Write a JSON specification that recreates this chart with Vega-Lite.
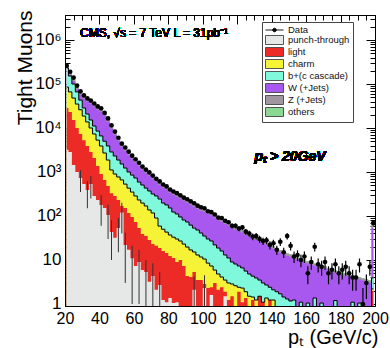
{
  "$schema": "https://vega.github.io/schema/vega-lite/v6.json",
  "width": 310,
  "height": 291,
  "autosize": "none",
  "padding": {"left": 65, "top": 15, "right": 15, "bottom": 42},
  "background": "white",
  "config": {
    "font": "Liberation Sans",
    "view": {"stroke": "black", "strokeWidth": 1},
    "axis": {"grid": false, "labelFont": "Liberation Sans", "titleFont": "Liberation Sans", "domainColor": "black", "tickColor": "black", "labelColor": "black", "titleColor": "black", "titleFontWeight": "normal", "zindex": 1}
  },
  "data": {"values": [
    {"x":21,"pt":3200,"li":28500,"ch":85000,"bc":231000,"w":240000,"z":250000,"ot":257000,"d":260000},
    {"x":23,"pt":2850,"li":23100,"ch":66000,"bc":152000,"w":162000,"z":180000,"ot":187000,"d":190000},
    {"x":25,"pt":1450,"li":15200,"ch":48000,"bc":100000,"w":115000,"z":132000,"ot":137000,"d":140000},
    {"x":27,"pt":1000,"li":10000,"ch":35000,"bc":66000,"w":76000,"z":86000,"ot":89000,"d":92000},
    {"x":29,"pt":730,"li":7300,"ch":26000,"bc":43000,"w":57000,"z":64000,"ot":66000,"d":68000,"el":350,"eh":1100},
    {"x":31,"pt":530,"li":5300,"ch":18700,"bc":28500,"w":46000,"z":51000,"ot":53000,"d":55000},
    {"x":33,"pt":390,"li":3900,"ch":13700,"bc":20800,"w":40000,"z":44500,"ot":46000,"d":47000,"el":150,"eh":620},
    {"x":35,"pt":530,"li":2850,"ch":10000,"bc":15200,"w":35500,"z":39700,"ot":41000,"d":42000,"el":250,"eh":800},
    {"x":37,"pt":285,"li":2080,"ch":7300,"bc":11100,"w":30500,"z":34000,"ot":35000,"d":36000},
    {"x":39,"pt":231,"li":1370,"ch":5300,"bc":8500,"w":26000,"z":29000,"ot":30000,"d":31000},
    {"x":41,"pt":178,"li":900,"ch":3900,"bc":6600,"w":23500,"z":26000,"ot":27000,"d":28000,"el":60,"eh":300},
    {"x":43,"pt":152,"li":660,"ch":2700,"bc":5000,"w":19000,"z":21300,"ot":22000,"d":22000},
    {"x":45,"pt":105,"li":480,"ch":1870,"bc":3900,"w":13900,"z":15500,"ot":16000,"d":16500,"el":30,"eh":180},
    {"x":47,"pt":43,"li":330,"ch":1110,"bc":2850,"w":9600,"z":10700,"ot":11000,"d":11500,"el":10,"eh":80},
    {"x":49,"pt":32,"li":285,"ch":900,"bc":2310,"w":7000,"z":7900,"ot":8100,"d":8300},
    {"x":51,"pt":53,"li":231,"ch":770,"bc":1870,"w":5100,"z":5700,"ot":5900,"d":6000,"el":15,"eh":90},
    {"x":53,"pt":120,"li":169,"ch":660,"bc":1520,"w":3750,"z":4170,"ot":4300,"d":4400,"el":40,"eh":200},
    {"x":55,"pt":22,"li":152,"ch":530,"bc":1230,"w":3050,"z":3400,"ot":3500,"d":3600,"el":3,"eh":42},
    {"x":57,"pt":17,"li":117,"ch":430,"bc":1000,"w":2440,"z":2720,"ot":2800,"d":2900},
    {"x":59,"pt":11,"li":95,"ch":350,"bc":850,"w":2000,"z":2230,"ot":2300,"d":2350,"el":1,"eh":21},
    {"x":61,"pt":7.3,"li":73,"ch":285,"bc":730,"w":1650,"z":1840,"ot":1900,"d":1950},
    {"x":63,"pt":9,"li":53,"ch":231,"bc":590,"w":1390,"z":1550,"ot":1600,"d":1620,"el":1,"eh":17},
    {"x":65,"pt":5.9,"li":39,"ch":197,"bc":505,"w":1130,"z":1260,"ot":1300,"d":1330},
    {"x":67,"pt":5.3,"li":35,"ch":169,"bc":430,"w":957,"z":1070,"ot":1100,"d":1130,"el":0.5,"eh":10},
    {"x":69,"pt":3.2,"li":28.5,"ch":137,"bc":370,"w":827,"z":922,"ot":950,"d":980},
    {"x":71,"pt":4.3,"li":23,"ch":117,"bc":316,"w":705,"z":786,"ot":810,"d":830,"el":0.3,"eh":8.4},
    {"x":73,"pt":2.1,"li":21,"ch":90,"bc":285,"w":600,"z":670,"ot":690,"d":700},
    {"x":75,"pt":2.7,"li":18.7,"ch":59,"bc":243,"w":513,"z":572,"ot":590,"d":610,"el":0.2,"eh":5.3},
    {"x":77,"pt":1.23,"li":16,"ch":50,"bc":197,"w":439,"z":490,"ot":505,"d":520},
    {"x":79,"pt":1.1,"li":14.4,"ch":43,"bc":178,"w":396,"z":441,"ot":455,"d":470},
    {"x":81,"pt":1.37,"li":12.3,"ch":37,"bc":152,"w":339,"z":378,"ot":390,"d":400},
    {"x":83,"pt":1.05,"li":11.1,"ch":33,"bc":123,"w":305,"z":340,"ot":350,"d":360},
    {"x":85,"pt":1.1,"li":9,"ch":30,"bc":111,"w":274,"z":306,"ot":315,"d":330},
    {"x":87,"pt":0.4,"li":10,"ch":27,"bc":95,"w":248,"z":276,"ot":285,"d":295},
    {"x":89,"pt":0.3,"li":7.3,"ch":23,"bc":81,"w":224,"z":249,"ot":257,"d":262},
    {"x":91,"pt":0.3,"li":4.3,"ch":19.7,"bc":73,"w":200,"z":223,"ot":230,"d":240},
    {"x":93,"pt":0.3,"li":4.1,"ch":16.9,"bc":62,"w":181,"z":202,"ot":208,"d":215},
    {"x":95,"pt":2.1,"li":5.3,"ch":15.2,"bc":53,"w":163,"z":181,"ot":187,"d":195,"el":0.2,"eh":4.2},
    {"x":97,"pt":0.3,"li":3.5,"ch":13,"bc":48,"w":146,"z":163,"ot":168,"d":172},
    {"x":99,"pt":0.3,"li":3.5,"ch":11.7,"bc":41,"w":132,"z":147,"ot":152,"d":158},
    {"x":101,"pt":2.3,"li":2.85,"ch":10.5,"bc":35,"w":125,"z":140,"ot":144,"d":150,"el":0.2,"eh":4.5},
    {"x":103,"pt":0.3,"li":2.3,"ch":8.5,"bc":30,"w":113,"z":126,"ot":130,"d":128},
    {"x":105,"pt":1.6,"li":2.4,"ch":7.3,"bc":27,"w":102,"z":113,"ot":117,"d":122},
    {"x":107,"pt":0.3,"li":3,"ch":5.9,"bc":22,"w":91,"z":102,"ot":105,"d":108},
    {"x":109,"pt":0.3,"li":2.1,"ch":4.8,"bc":18.7,"w":83,"z":92,"ot":95,"d":92},
    {"x":111,"pt":0.3,"li":2.4,"ch":4.1,"bc":16,"w":74,"z":82,"ot":85,"d":90},
    {"x":113,"pt":1.5,"li":1.9,"ch":3.5,"bc":13,"w":67,"z":75,"ot":77,"d":78},
    {"x":115,"pt":0.3,"li":1.23,"ch":3,"bc":11.1,"w":60,"z":67,"ot":69,"d":72},
    {"x":117,"pt":0.3,"li":1.5,"ch":2.85,"bc":9,"w":54,"z":60,"ot":62,"d":60,"lo":52.3,"hi":67.7},
    {"x":119,"pt":0.3,"li":0.6,"ch":2.6,"bc":8.1,"w":49,"z":54,"ot":56,"d":60,"lo":52.3,"hi":67.7},
    {"x":121,"pt":0.3,"li":1.9,"ch":2.4,"bc":7.3,"w":46,"z":51,"ot":53,"d":52,"lo":44.8,"hi":59.2},
    {"x":123,"pt":0.3,"li":1.1,"ch":2.3,"bc":6.6,"w":42,"z":46.5,"ot":48,"d":55,"lo":47.6,"hi":62.4},
    {"x":125,"pt":0.3,"li":1.37,"ch":1.9,"bc":5.6,"w":37.4,"z":41.7,"ot":43,"d":44,"lo":37.4,"hi":50.6},
    {"x":127,"pt":0.3,"li":0.5,"ch":1.5,"bc":4.8,"w":34,"z":37.8,"ot":39,"d":40,"lo":33.7,"hi":46.3},
    {"x":129,"pt":0.3,"li":1.23,"ch":1.44,"bc":4.3,"w":30.5,"z":34,"ot":35,"d":34,"lo":28.2,"hi":39.8},
    {"x":131,"pt":0.3,"li":0.5,"ch":1.23,"bc":3.9,"w":28.7,"z":32,"ot":33,"d":35,"lo":29.1,"hi":40.9},
    {"x":133,"pt":0.3,"li":1.5,"ch":1.5,"bc":3.5,"w":26,"z":29,"ot":30,"d":30,"lo":24.5,"hi":35.5},
    {"x":135,"pt":0.3,"li":1.1,"ch":1.1,"bc":3,"w":24.8,"z":27.6,"ot":28.5,"d":27,"lo":21.8,"hi":32.2},
    {"x":137,"pt":0.3,"li":0.5,"ch":1.37,"bc":2.7,"w":22.4,"z":24.9,"ot":25.7,"d":28,"lo":22.7,"hi":33.3},
    {"x":139,"pt":0.3,"li":1.23,"ch":1.23,"bc":2.4,"w":20,"z":22.3,"ot":23,"d":22,"lo":17.3,"hi":26.7},
    {"x":141,"pt":0.3,"li":0.3,"ch":1.23,"bc":2.1,"w":18.1,"z":20.2,"ot":20.8,"d":24,"lo":19.1,"hi":28.9},
    {"x":143,"pt":0.3,"li":0.3,"ch":0.5,"bc":1.9,"w":16.3,"z":18.1,"ot":18.7,"d":17,"lo":12.9,"hi":21.1},
    {"x":145,"pt":0.3,"li":0.3,"ch":0.5,"bc":1.7,"w":14.7,"z":16.4,"ot":16.9,"d":26,"lo":20.9,"hi":31.1},
    {"x":147,"pt":0.3,"li":0.3,"ch":0.5,"bc":1.44,"w":13.9,"z":15.5,"ot":16,"d":15,"lo":11.1,"hi":18.9},
    {"x":149,"pt":0.3,"li":0.3,"ch":0.5,"bc":1.3,"w":12.5,"z":14,"ot":14.4,"d":35,"lo":29.1,"hi":40.9},
    {"x":151,"pt":0.3,"li":0.3,"ch":0.5,"bc":1.17,"w":11.9,"z":13.3,"ot":13.7,"d":21,"lo":16.4,"hi":25.6},
    {"x":153,"pt":0.3,"li":0.3,"ch":0.5,"bc":1.23,"w":10.7,"z":11.9,"ot":12.3,"d":12,"lo":8.5,"hi":15.5},
    {"x":155,"pt":0.3,"li":0.3,"ch":0.5,"bc":0.6,"w":10.2,"z":11.3,"ot":11.7,"d":13,"lo":9.4,"hi":16.6},
    {"x":157,"pt":0.3,"li":0.3,"ch":0.5,"bc":1.1,"w":9.7,"z":10.8,"ot":11.1,"d":10,"lo":6.8,"hi":13.2},
    {"x":159,"pt":0.3,"li":0.3,"ch":0.5,"bc":0.5,"w":9.1,"z":10.2,"ot":10.5,"d":12,"lo":8.5,"hi":15.5},
    {"x":161,"pt":0.3,"li":0.3,"ch":0.5,"bc":1.05,"w":8.3,"z":9.2,"ot":9.5,"d":5,"lo":2.8,"hi":7.2},
    {"x":163,"pt":0.3,"li":0.3,"ch":0.5,"bc":0.5,"w":7.8,"z":8.7,"ot":9,"d":9,"lo":6,"hi":12},
    {"x":165,"pt":0.3,"li":0.3,"ch":0.5,"bc":1.37,"w":7.4,"z":8.2,"ot":8.5,"d":20,"lo":15.5,"hi":24.5},
    {"x":167,"pt":0.3,"li":0.3,"ch":0.5,"bc":0.6,"w":7,"z":7.9,"ot":8.1,"d":8,"lo":5.2,"hi":10.8},
    {"x":169,"pt":0.3,"li":0.3,"ch":0.5,"bc":1.05,"w":6.7,"z":7.5,"ot":7.7,"d":7,"lo":4.4,"hi":9.6},
    {"x":171,"pt":0.3,"li":0.3,"ch":0.5,"bc":0.5,"w":6.4,"z":7.1,"ot":7.3,"d":9,"lo":6,"hi":12},
    {"x":173,"pt":0.3,"li":0.3,"ch":0.5,"bc":0.5,"w":5.7,"z":6.4,"ot":6.6,"d":5,"lo":2.8,"hi":7.2},
    {"x":175,"pt":0.3,"li":0.3,"ch":0.5,"bc":0.5,"w":5.4,"z":6,"ot":6.2,"d":6,"lo":3.6,"hi":8.4},
    {"x":177,"pt":0.3,"li":0.3,"ch":0.5,"bc":1.2,"w":5.1,"z":5.7,"ot":5.9,"d":8,"lo":5.2,"hi":10.8},
    {"x":179,"pt":0.3,"li":0.3,"ch":0.5,"bc":0.5,"w":4.9,"z":5.4,"ot":5.6,"d":5,"lo":2.8,"hi":7.2},
    {"x":181,"pt":0.3,"li":0.3,"ch":0.5,"bc":0.5,"w":4.6,"z":5.1,"ot":5.3,"d":6,"lo":3.6,"hi":8.4},
    {"x":183,"pt":0.3,"li":0.3,"ch":0.5,"bc":0.5,"w":4.4,"z":4.9,"ot":5.1,"d":7,"lo":4.4,"hi":9.6},
    {"x":185,"pt":0.3,"li":0.3,"ch":0.5,"bc":0.5,"w":4.2,"z":4.65,"ot":4.8,"d":5,"lo":2.8,"hi":7.2},
    {"x":187,"pt":0.3,"li":0.3,"ch":0.5,"bc":1.1,"w":4,"z":4.46,"ot":4.6,"d":4,"lo":2,"hi":6},
    {"x":189,"pt":0.3,"li":0.3,"ch":0.5,"bc":0.5,"w":3.7,"z":4.2,"ot":4.3,"d":4,"lo":2,"hi":6},
    {"x":191,"pt":0.3,"li":0.3,"ch":0.5,"bc":1.05,"w":3.6,"z":4,"ot":4.1,"d":8,"lo":5.2,"hi":10.8},
    {"x":193,"pt":0.3,"li":0.3,"ch":0.5,"bc":0.5,"w":3.4,"z":3.8,"ot":3.9,"d":1,"lo":0.2,"hi":2.3},
    {"x":195,"pt":0.3,"li":0.3,"ch":0.5,"bc":0.5,"w":3.2,"z":3.6,"ot":3.7,"d":3,"lo":1.3,"hi":4.7},
    {"x":197,"pt":0.3,"li":0.3,"ch":0.5,"bc":0.5,"w":3,"z":3.4,"ot":3.5,"d":7,"lo":4.4,"hi":9.6},
    {"x":199,"pt":0.3,"li":1.97,"ch":2.2,"bc":3.9,"w":53,"z":65,"ot":73,"d":69,"lo":60.7,"hi":77.3}
  ]},
  "layer": [
    {
      "layer": [
        {
          "mark": {"type": "area", "interpolate": "step", "clip": true},
          "encoding": {
            "x": {"field": "x", "type": "quantitative",
              "scale": {"domain": [20, 200], "nice": false, "zero": false},
              "axis": {"orient": "bottom",
                "values": [20,25,30,35,40,45,50,55,60,65,70,75,80,85,90,95,100,105,110,115,120,125,130,135,140,145,150,155,160,165,170,175,180,185,190,195,200],
                "labelExpr": "(datum.value - 20) % 40 == 0 ? '' + datum.value : ''",
                "labelOverlap": false, "labelFlush": false,
                "tickSize": {"condition": {"test": "datum.value % 20 == 0", "value": -9}, "value": -5},
                "labelPadding": 13, "labelFontSize": 16,
                "title": "pₜ (GeV/c)", "titleFontSize": 20, "titleX": 313, "titleY": 37, "titleAlign": "right", "titleBaseline": "alphabetic", "titleAnchor": null}},
            "y": {"field": "ot", "type": "quantitative", "stack": null,
              "scale": {"type": "log", "domain": [0.9, 3700000], "nice": false},
              "axis": {"orient": "left",
                "values": [1,2,3,4,5,6,7,8,9,10,20,30,40,50,60,70,80,90,100,200,300,400,500,600,700,800,900,1000,2000,3000,4000,5000,6000,7000,8000,9000,10000,20000,30000,40000,50000,60000,70000,80000,90000,100000,200000,300000,400000,500000,600000,700000,800000,900000,1000000,2000000,3000000],
                "labelExpr": "datum.value == 1 ? '1' : datum.value == 10 ? '10' : datum.value == 100 ? '10²' : datum.value == 1000 ? '10³' : datum.value == 10000 ? '10⁴' : datum.value == 100000 ? '10⁵' : datum.value == 1000000 ? '10⁶' : ''",
                "labelOverlap": false,
                "tickSize": {"condition": {"test": "datum.value == 1 || datum.value == 10 || datum.value == 100 || datum.value == 1000 || datum.value == 10000 || datum.value == 100000 || datum.value == 1000000", "value": -9}, "value": -5},
                "labelPadding": 13, "labelFontSize": 17,
                "title": "Tight Muons", "titleFontSize": 21, "titleX": -34, "titleY": -5, "titleAngle": 270, "titleAlign": "right", "titleBaseline": "alphabetic", "titleAnchor": null}},
            "y2": {"datum": 0.9},
            "color": {"datum": "ot", "type": "nominal",
              "scale": {"domain": ["data", "pt", "li", "ch", "bc", "w", "z", "ot"],
                "range": ["#000000", "#e6e8e8", "#ec2a26", "#f6f236", "#80f8dc", "#a958ef", "#a0969f", "#8ad892"]},
              "legend": {"orient": "none", "legendX": 197, "legendY": 7, "title": null,
                "fillColor": "white", "strokeColor": "#444", "padding": 3,
                "symbolSize": 81, "labelOffset": 13, "labelFontSize": 9.5, "labelFont": "Liberation Sans", "labelColor": "#111",
                "rowPadding": -3.3, "symbolStrokeWidth": 0.8, "symbolStrokeColor": "#444", "symbolOpacity": 1,
                "symbolType": "M-1,-1H3V1H-1Z",
                "labelExpr": "datum.label == 'data' ? 'Data' : datum.label == 'pt' ? 'punch-through' : datum.label == 'li' ? 'light' : datum.label == 'ch' ? 'charm' : datum.label == 'bc' ? 'b+(c cascade)' : datum.label == 'w' ? 'W (+Jets)' : datum.label == 'z' ? 'Z (+Jets)' : 'others'",
                "encode": {"symbols": {"update": {
                  "shape": {"signal": "datum.value == 'data' ? 'M-1,0H3M1.4,0A0.4,0.4,0,1,1,0.6,0A0.4,0.4,0,1,1,1.4,0Z' : 'M-1,-1H3V1H-1Z'"},
                  "stroke": {"signal": "datum.value == 'data' ? '#000' : '#444'"},
                  "strokeWidth": {"value": 0.9}}}}}}
          }
        },
        {"mark": {"type": "area", "interpolate": "step", "clip": true},
         "encoding": {"x": {"field": "x", "type": "quantitative"}, "y": {"field": "z", "type": "quantitative", "stack": null}, "y2": {"datum": 0.9}, "color": {"datum": "z", "type": "nominal"}}},
        {"mark": {"type": "area", "interpolate": "step", "clip": true},
         "encoding": {"x": {"field": "x", "type": "quantitative"}, "y": {"field": "w", "type": "quantitative", "stack": null}, "y2": {"datum": 0.9}, "color": {"datum": "w", "type": "nominal"}}},
        {"mark": {"type": "area", "interpolate": "step", "clip": true},
         "encoding": {"x": {"field": "x", "type": "quantitative"}, "y": {"field": "bc", "type": "quantitative", "stack": null}, "y2": {"datum": 0.9}, "color": {"datum": "bc", "type": "nominal"}}},
        {"mark": {"type": "area", "interpolate": "step", "clip": true},
         "encoding": {"x": {"field": "x", "type": "quantitative"}, "y": {"field": "ch", "type": "quantitative", "stack": null}, "y2": {"datum": 0.9}, "color": {"datum": "ch", "type": "nominal"}}},
        {"mark": {"type": "area", "interpolate": "step", "clip": true},
         "encoding": {"x": {"field": "x", "type": "quantitative"}, "y": {"field": "li", "type": "quantitative", "stack": null}, "y2": {"datum": 0.9}, "color": {"datum": "li", "type": "nominal"}}},
        {"mark": {"type": "area", "interpolate": "step", "clip": true},
         "encoding": {"x": {"field": "x", "type": "quantitative"}, "y": {"field": "pt", "type": "quantitative", "stack": null}, "y2": {"datum": 0.9}, "color": {"datum": "pt", "type": "nominal"}}},
        {
          "mark": {"type": "rule", "color": "#333", "strokeWidth": 1, "clip": true},
          "encoding": {"x": {"field": "x", "type": "quantitative"}, "y": {"field": "el", "type": "quantitative"}, "y2": {"field": "eh"}}
        },
        {
          "mark": {"type": "line", "interpolate": "step", "color": "black", "strokeWidth": 1, "clip": true},
          "encoding": {"x": {"field": "x", "type": "quantitative"}, "y": {"field": "bc", "type": "quantitative"}}
        },
        {
          "mark": {"type": "line", "interpolate": "step", "color": "black", "strokeWidth": 1, "clip": true},
          "encoding": {"x": {"field": "x", "type": "quantitative"}, "y": {"field": "ch", "type": "quantitative"}}
        },
        {
          "mark": {"type": "rule", "color": "black", "strokeWidth": 1.2, "clip": true},
          "encoding": {"x": {"field": "x", "type": "quantitative"}, "y": {"field": "lo", "type": "quantitative"}, "y2": {"field": "hi"}}
        },
        {
          "mark": {"type": "point", "filled": true, "shape": "circle", "size": 22, "color": "black", "opacity": 1, "clip": true},
          "encoding": {"x": {"field": "x", "type": "quantitative"}, "y": {"field": "d", "type": "quantitative"}}
        },
        {
          "mark": {"type": "text", "align": "left", "baseline": "middle", "fontSize": 12, "font": "Liberation Sans", "fontWeight": "normal", "color": "black"},
          "encoding": {"x": {"datum": 28.7}, "y": {"datum": 1440000}, "text": {"value": "CMS, √s = 7 TeV  L = 31pb⁻¹"}}
        },
        {
          "mark": {"type": "text", "align": "left", "baseline": "middle", "fontSize": 14, "fontWeight": "bold", "fontStyle": "italic", "font": "Liberation Sans", "color": "black"},
          "encoding": {"x": {"datum": 130}, "y": {"datum": 2200}, "text": {"value": "pₜ > 20GeV"}}
        }
      ]
    },
    {
      "mark": {"type": "point", "opacity": 0},
      "encoding": {
        "x": {"field": "x", "type": "quantitative",
          "axis": {"orient": "bottom", "title": null, "domain": false, "ticks": false,
            "values": [40, 80, 120, 160, 200],
            "labelExpr": "'' + datum.value",
            "labelOverlap": false, "labelFlush": false,
            "labelPadding": 4, "labelFontSize": 16}},
        "y": {"field": "d", "type": "quantitative", "axis": null}
      }
    },
    {
      "mark": {"type": "point", "opacity": 0},
      "encoding": {
        "x": {"field": "x", "type": "quantitative",
          "axis": {"orient": "top", "title": null, "labels": false,
            "values": [20,25,30,35,40,45,50,55,60,65,70,75,80,85,90,95,100,105,110,115,120,125,130,135,140,145,150,155,160,165,170,175,180,185,190,195,200],
            "tickSize": {"condition": {"test": "datum.value % 20 == 0", "value": -9}, "value": -5}}},
        "y": {"field": "d", "type": "quantitative",
          "axis": {"orient": "right", "title": null, "labels": false,
            "values": [1,2,3,4,5,6,7,8,9,10,20,30,40,50,60,70,80,90,100,200,300,400,500,600,700,800,900,1000,2000,3000,4000,5000,6000,7000,8000,9000,10000,20000,30000,40000,50000,60000,70000,80000,90000,100000,200000,300000,400000,500000,600000,700000,800000,900000,1000000,2000000,3000000],
            "tickSize": {"condition": {"test": "datum.value == 1 || datum.value == 10 || datum.value == 100 || datum.value == 1000 || datum.value == 10000 || datum.value == 100000 || datum.value == 1000000", "value": -9}, "value": -5}}}
      }
    }
  ],
  "resolve": {"axis": {"x": "independent", "y": "independent"}}
}
